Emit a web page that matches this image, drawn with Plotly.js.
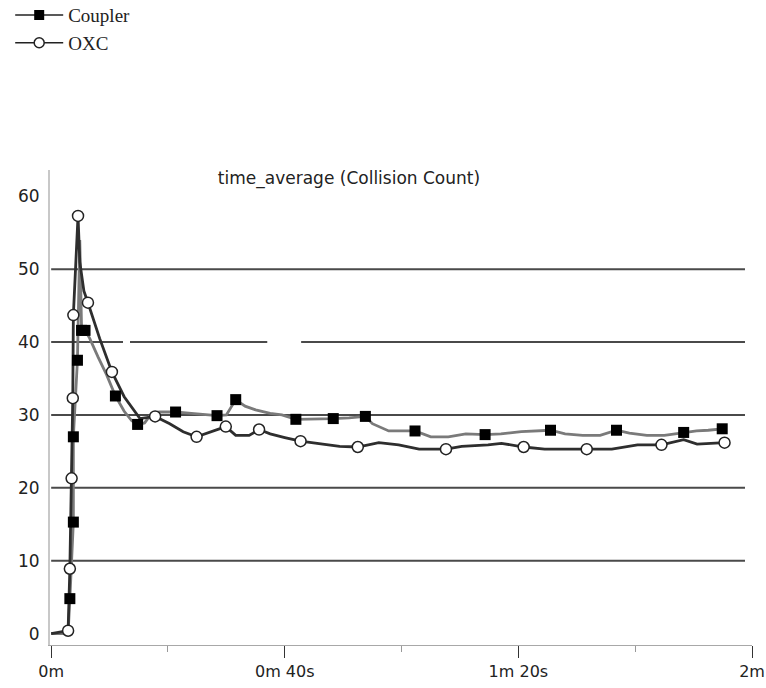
<!DOCTYPE html>
<html>
<head>
<meta charset="utf-8">
<script src="https://cdn.plot.ly/plotly-3.0.1.min.js"></script>
<style>html,body{margin:0;padding:0;background:#fff;}#chart{width:766px;height:688px;}</style>
</head>
<body>
<div id="chart"></div>
<script>
// ---- data (time in seconds, value = collision count) ----
var seriesNames = ["Coupler", "OXC"];

var couplerT = [0, 2.9, 3.2, 3.8, 3.8, 4.5, 4.9, 5.2, 5.8, 6.6, 8.0, 9.5, 11.0, 12.5, 13.8, 14.8, 16.0, 17.2, 18.5, 21.3, 24.0, 28.4, 30.0, 31.6, 33.2, 35.0, 37.5, 39.5, 41.9, 45.0, 48.3, 51.0, 53.8, 55.0, 57.8, 62.3, 65.0, 68.0, 71.0, 74.3, 77.0, 80.5, 83.0, 85.5, 88.0, 91.0, 94.0, 96.8, 99.0, 102.0, 105.0, 108.3, 110.5, 112.5, 114.9];
var couplerV = [0, 0, 4.8, 15.3, 27.0, 37.5, 54.0, 42.0, 41.6, 40.5, 38.0, 35.5, 32.6, 30.5, 29.2, 28.7, 28.9, 30.2, 30.4, 30.4, 30.2, 29.9, 30.0, 32.1, 31.2, 30.7, 30.2, 30.0, 29.4, 29.4, 29.5, 29.6, 29.8, 28.8, 27.8, 27.8, 27.0, 27.0, 27.4, 27.3, 27.4, 27.7, 27.8, 27.9, 27.4, 27.2, 27.2, 27.9, 27.5, 27.2, 27.2, 27.6, 27.8, 27.9, 28.1];
var couplerMarkT = [3.2, 3.8, 3.8, 4.5, 5.2, 5.8, 11.0, 14.8, 21.3, 28.4, 31.6, 41.9, 48.3, 53.8, 62.3, 74.3, 85.5, 96.8, 108.3, 114.9];
var couplerMarkV = [4.8, 15.3, 27.0, 37.5, 41.6, 41.6, 32.6, 28.7, 30.4, 29.9, 32.1, 29.4, 29.5, 29.8, 27.8, 27.3, 27.9, 27.9, 27.6, 28.1];

var oxcT = [0, 2.9, 3.2, 3.5, 3.7, 3.8, 4.6, 4.9, 5.6, 6.3, 8.3, 10.4, 12.5, 15.2, 17.8, 20.3, 22.6, 24.9, 27.5, 29.9, 31.6, 33.9, 35.6, 37.5, 40.0, 42.7, 46.5, 49.4, 52.5, 56.1, 59.5, 63.0, 67.6, 70.3, 74.8, 77.1, 80.9, 84.5, 91.7, 96.0, 100.4, 104.5, 108.3, 110.6, 115.3];
var oxcV = [0, 0.4, 8.9, 21.3, 32.3, 43.7, 57.3, 51.0, 47.0, 45.4, 40.5, 35.9, 32.5, 29.5, 29.8, 28.8, 27.7, 27.0, 27.7, 28.4, 27.2, 27.2, 28.0, 27.4, 26.9, 26.4, 26.0, 25.7, 25.6, 26.2, 25.9, 25.3, 25.3, 25.7, 25.9, 26.1, 25.6, 25.3, 25.3, 25.3, 25.9, 25.9, 26.6, 26.0, 26.2];
var oxcMarkT = [2.9, 3.2, 3.5, 3.7, 3.8, 4.6, 6.3, 10.4, 17.8, 24.9, 29.9, 35.6, 42.7, 52.5, 67.6, 80.9, 91.7, 104.5, 115.3];
var oxcMarkV = [0.4, 8.9, 21.3, 32.3, 43.7, 57.3, 45.4, 35.9, 29.8, 27.0, 28.4, 28.0, 26.4, 25.6, 25.3, 25.6, 25.3, 25.9, 26.2];

var xTickVals = [0, 40, 80, 120];
var xTickText = ["0m", "0m 40s", "1m 20s", "2m"];
var xMinorVals = [20, 60, 100];
var yTickVals = [0, 10, 20, 30, 40, 50, 60];
var gridVals = [10, 20, 30, 40, 50];
var chartTitle = "time_average (Collision Count)";

// ---- styling ----
var axisFont = {family: "DejaVu Sans, sans-serif", size: 17, color: "#222"};
var xTickFont = {family: "DejaVu Sans, sans-serif", size: 16, color: "#222"};
var coupLineColor = "#7a7a7a";
var oxcLineColor = "#2e2e2e";

var traces = [
  {x: couplerT, y: couplerV, mode: "lines", line: {color: coupLineColor, width: 2.8}, showlegend: false, hoverinfo: "skip"},
  {x: oxcT, y: oxcV, mode: "lines", line: {color: oxcLineColor, width: 2.8}, showlegend: false, hoverinfo: "skip"},
  {x: couplerMarkT, y: couplerMarkV, mode: "markers", marker: {symbol: "square", size: 11, color: "#000"}, showlegend: false},
  {x: oxcMarkT, y: oxcMarkV, mode: "markers", marker: {symbol: "circle", size: 11, color: "#fff", line: {color: "#222", width: 1.5}}, showlegend: false},
  {x: [null], y: [null], name: seriesNames[0], legendgroup: "a", mode: "lines+markers", line: {color: "#222", width: 1.5}, marker: {symbol: "square", size: 10, color: "#000"}},
  {x: [null], y: [null], name: seriesNames[1], legendgroup: "b", mode: "lines+markers", line: {color: "#222", width: 1.5}, marker: {symbol: "circle", size: 10, color: "#fff", line: {color: "#222", width: 1.5}}}
];

var shapes = [];
gridVals.forEach(function (v) {
  var segs = (v === 40) ? [[0, 12.3], [13.5, 37.0], [42.8, 118.8]] : [[0, 118.8]];
  segs.forEach(function (s) {
    shapes.push({type: "line", xref: "x", yref: "y", x0: s[0], x1: s[1], y0: v, y1: v, layer: "below", line: {color: "#4a4a4a", width: 2}});
  });
});

var layout = {
  width: 766, height: 688,
  margin: {l: 50, r: 14, t: 170, b: 43, autoexpand: false},
  paper_bgcolor: "#fff", plot_bgcolor: "#fff",
  title: {text: chartTitle, x: 0.4556, xanchor: "center", xref: "container", y: 1 - 178 / 688, yanchor: "middle", yref: "container", font: axisFont},
  xaxis: {
    range: [-0.2, 120], tickmode: "array", tickvals: xTickVals, ticktext: xTickText,
    ticks: "outside", ticklen: 12, tickwidth: 1, tickcolor: "#333", ticklabeloverflow: "allow",
    minor: {tickmode: "array", tickvals: xMinorVals, ticks: "outside", ticklen: 6, tickcolor: "#999", tickwidth: 1, showgrid: false},
    showline: true, linecolor: "#a8a8a8", linewidth: 1,
    showgrid: false, zeroline: false, tickfont: xTickFont, fixedrange: true
  },
  yaxis: {
    range: [-1.56, 63.6], tickmode: "array", tickvals: yTickVals,
    ticks: "", showline: true, linecolor: "#c8c8c8", linewidth: 2,
    showgrid: false, zeroline: false, tickfont: axisFont, ticklabelstandoff: 5, fixedrange: true
  },
  shapes: shapes,
  showlegend: true,
  legend: {x: -0.0567, y: 1.366, xanchor: "left", yanchor: "top", bgcolor: "rgba(0,0,0,0)",
    font: {family: "Liberation Serif, Times New Roman, serif", size: 19, color: "#222"},
    tracegroupgap: 0, itemwidth: 48}
};

Plotly.newPlot("chart", traces, layout, {displayModeBar: false, staticPlot: true});
</script>
</body>
</html>
